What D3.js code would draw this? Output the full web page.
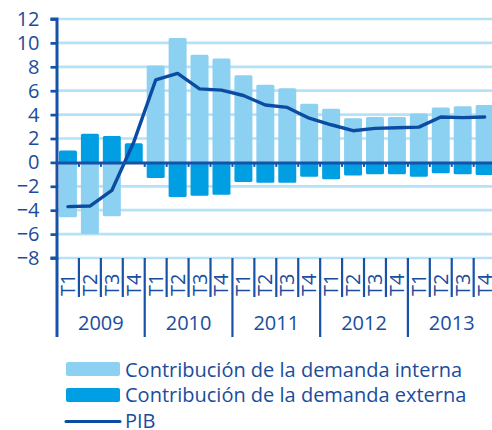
<!DOCTYPE html>
<html>
<head>
<meta charset="utf-8">
<script src="https://cdn.jsdelivr.net/npm/d3@7/dist/d3.min.js"></script>
<style>
  html, body { margin: 0; padding: 0; background: #ffffff; }
  svg { display: block; }
  text { font-family: "Open Sans", "DejaVu Sans", sans-serif; fill: #1a4d9c; }
</style>
</head>
<body>
<svg id="chart" width="492" height="430"></svg>
<script>
// ---------- DATA ----------
const years = ["2009", "2010", "2011", "2012", "2013"];
const quarters = ["T1", "T2", "T3", "T4"];
const demandaInterna = [-4.6, -6.0, -4.5, 0.1, 8.1, 10.4, 9.0, 8.7, 7.3, 6.5, 6.2, 4.9, 4.5, 3.7, 3.8, 3.8, 4.1, 4.6, 4.7, 4.8];
const demandaExterna = [1.0, 2.4, 2.2, 1.6, -1.3, -2.9, -2.8, -2.7, -1.65, -1.7, -1.7, -1.2, -1.4, -1.1, -1.0, -1.0, -1.2, -0.9, -1.0, -1.05];
const pib = [-3.7, -3.65, -2.35, 1.7, 6.9, 7.45, 6.15, 6.05, 5.6, 4.8, 4.6, 3.7, 3.15, 2.65, 2.85, 2.9, 2.95, 3.8, 3.75, 3.8];
const yTicks = [-8, -6, -4, -2, 0, 2, 4, 6, 8, 10, 12];
const legendLabels = ["Contribución de la demanda interna", "Contribución de la demanda externa", "PIB"];

// ---------- STYLE ----------
const cLight = "#8cd1f2", cDark = "#009ee2", cLine = "#0b4ca2", cAxis = "#1552a8", cGrid = "#b5e2f6", cText = "#1a4d9c";

const svg = d3.select("#chart");
const periods = [];
years.forEach(yr => quarters.forEach(q => periods.push(yr + "-" + q)));

const pLeft = 57, pRight = 495.6, pTop = 19, pBottom = 258;
const x = d3.scaleBand().domain(periods).range([pLeft, pRight]).paddingInner(0.18).paddingOuter(0.09);
const y = d3.scaleLinear().domain([-8, 12]).range([pBottom, pTop]);
const step = x.step();
const bx = i => pLeft + i * step; // boundary position

// gridlines (behind bars)
svg.append("g").selectAll("line").data(yTicks.filter(v => v !== 0)).join("line")
  .attr("x1", pLeft).attr("x2", 492)
  .attr("y1", d => y(d)).attr("y2", d => y(d))
  .attr("stroke", cGrid).attr("stroke-width", 2.7);

// bars: interna
svg.append("g").selectAll("rect").data(demandaInterna).join("rect")
  .attr("x", (d, i) => x(periods[i]))
  .attr("width", x.bandwidth())
  .attr("y", d => y(Math.max(0, d)))
  .attr("height", d => Math.abs(y(d) - y(0)))
  .attr("rx", 1.5)
  .attr("fill", cLight);

// bars: externa
svg.append("g").selectAll("rect").data(demandaExterna).join("rect")
  .attr("x", (d, i) => x(periods[i]))
  .attr("width", x.bandwidth())
  .attr("y", d => y(Math.max(0, d)))
  .attr("height", d => Math.abs(y(d) - y(0)))
  .attr("rx", 1.5)
  .attr("fill", cDark);

// PIB line
svg.append("path").datum(pib)
  .attr("fill", "none").attr("stroke", cLine).attr("stroke-width", 3.4)
  .attr("stroke-linejoin", "round").attr("stroke-linecap", "round")
  .attr("d", d3.line().x((d, i) => x(periods[i]) + x.bandwidth() / 2).y(d => y(d)));

// zero axis
const zeroAxis = svg.append("g").attr("transform", `translate(0,${y(0)})`)
  .call(d3.axisBottom(x).tickSize(0).tickFormat(""));
zeroAxis.select(".domain").attr("stroke", cAxis).attr("stroke-width", 3);
svg.append("g").selectAll("line").data(d3.range(periods.length + 1)).join("line")
  .attr("x1", d => bx(d)).attr("x2", d => bx(d))
  .attr("y1", y(0)).attr("y2", y(0) + 4.5)
  .attr("stroke", cAxis).attr("stroke-width", 2);

// y axis
const yAxis = svg.append("g").attr("transform", `translate(${pLeft},0)`)
  .call(d3.axisLeft(y).tickValues(yTicks).tickSize(6.5).tickPadding(11).tickFormat(d3.format("d")));
yAxis.select(".domain").attr("stroke", cAxis).attr("stroke-width", 3).attr("d", `M-6.5,${pTop}H0V${pBottom}H-6.5`);
yAxis.selectAll(".tick line").attr("stroke", cAxis).attr("stroke-width", 2.7);
yAxis.selectAll(".tick text").attr("fill", cText).style("font-size", "20px")
  .style("font-family", "'Open Sans', sans-serif");

// category dividers below plot
svg.append("g").selectAll("line").data(d3.range(periods.length + 1)).join("line")
  .attr("x1", d => bx(d)).attr("x2", d => bx(d))
  .attr("y1", pBottom).attr("y2", d => d % 4 === 0 ? 337 : 297)
  .attr("stroke", cAxis).attr("stroke-width", d => d === 0 ? 3 : 2.2);

// quarter labels
svg.append("g").selectAll("text").data(periods).join("text")
  .attr("transform", d => `translate(${x(d) + x.bandwidth() / 2 + 7},296) rotate(-90)`)
  .attr("text-anchor", "start")
  .style("font-size", "20px")
  .text(d => d.split("-")[1]);

// year labels
svg.append("g").selectAll("text").data(years).join("text")
  .attr("x", (d, i) => (bx(i * 4) + bx(i * 4 + 4)) / 2)
  .attr("y", 330)
  .attr("text-anchor", "middle")
  .style("font-size", "20px")
  .text(d => d);

// legend
const lg = svg.append("g");
lg.append("rect").attr("x", 66).attr("y", 362).attr("width", 54).attr("height", 14).attr("rx", 2).attr("fill", cLight);
lg.append("rect").attr("x", 66).attr("y", 388).attr("width", 54).attr("height", 14).attr("rx", 2).attr("fill", cDark);
lg.append("line").attr("x1", 66).attr("x2", 120).attr("y1", 421.5).attr("y2", 421.5)
  .attr("stroke", cLine).attr("stroke-width", 3).attr("stroke-linecap", "round");
lg.selectAll("text").data(legendLabels).join("text")
  .attr("x", 125)
  .attr("y", (d, i) => [376.5, 402, 428][i])
  .style("font-size", "20px")
  .text(d => d);
</script>
</body>
</html>
